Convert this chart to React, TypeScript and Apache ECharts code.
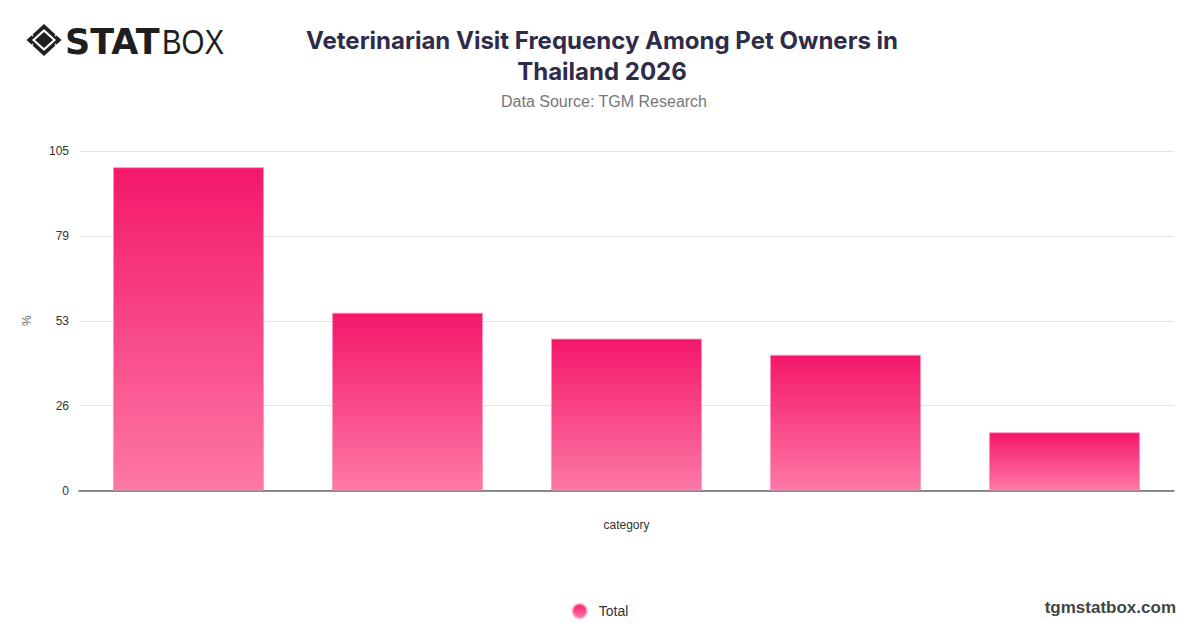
import React, { useEffect, useRef } from "react";
import * as echarts from "echarts";

const categories = [
  "At least once a year",
  "Only when sick",
  "Every six months",
  "For vaccinations only",
  "Never",
];
const totalValues = [100, 55, 47, 42, 18];
const yTicks = [0, 26, 53, 79, 105];
const seriesName = "Total";

export default function App() {
  const ref = useRef<HTMLDivElement>(null);

  useEffect(() => {
    document.body.style.margin = "0";
    if (!ref.current) return;
    const chart = echarts.init(ref.current, null, { renderer: "svg" });
    const font = "Helvetica Neue, Arial, Liberation Sans, sans-serif";
    const dark = "#1f1f1f";
    chart.setOption({
      animation: false,
      backgroundColor: "#ffffff",
      title: [
        {
          text: "Veterinarian Visit Frequency Among Pet Owners in\nThailand 2026",
          left: 597,
          top: 20,
          textAlign: "center",
          textStyle: {
            fontFamily: "Inter, Noto Sans, sans-serif",
            fontSize: 24,
            fontWeight: "bold",
            color: "#2e2c48",
            lineHeight: 31,
          },
        },
        {
          text: "Data Source: TGM Research",
          left: 599,
          top: 88,
          textAlign: "center",
          textStyle: {
            fontFamily: font,
            fontSize: 16,
            fontWeight: "normal",
            color: "#777777",
          },
        },
      ],
      legend: {
        bottom: 4,
        left: "center",
        itemWidth: 14,
        itemHeight: 14,
        icon: "circle",
        itemGap: 10,
        textStyle: { fontFamily: font, fontSize: 14, color: "#333", padding: [0, 0, 0, 7] },
        data: [seriesName],
      },
      grid: { left: 79, right: 26, top: 151, bottom: 137.5, containLabel: false },
      xAxis: {
        type: "category",
        data: categories,
        name: "category",
        nameLocation: "middle",
        nameGap: 28,
        nameTextStyle: { fontFamily: font, fontSize: 12, color: "#333" },
        axisLabel: { show: false },
        axisTick: { show: false },
        axisLine: { lineStyle: { color: "#666666", width: 1.5 } },
      },
      yAxis: {
        type: "value",
        min: 0,
        max: 105,
        interval: 26.25,
        name: "%",
        nameLocation: "middle",
        nameGap: 46,
        nameRotate: 90,
        nameTextStyle: { fontFamily: font, fontSize: 12, color: "#666" },
        axisLabel: {
          fontFamily: font,
          fontSize: 12,
          color: "#333",
          margin: 10,
          formatter: (v: number) => {
            const r = Math.round(v);
            return yTicks.includes(r) ? String(r) : "";
          },
        },
        axisLine: { show: false },
        axisTick: { show: false },
        splitLine: { lineStyle: { color: "#e3e3e3", width: 1 } },
      },
      series: [
        {
          name: seriesName,
          type: "bar",
          data: totalValues,
          barWidth: "69%",
          itemStyle: {
            color: new echarts.graphic.LinearGradient(0, 0, 0, 1, [
              { offset: 0, color: "#f4176a" },
              { offset: 1, color: "#fd78a6" },
            ]),
            borderColor: "rgba(255,150,190,0.8)",
            borderWidth: 1,
          },
        },
      ],
      graphic: [
        // logo icon
        {
          type: "polygon",
          shape: { points: [[44, 24], [61.5, 40], [44, 56], [26.5, 40]] },
          style: { fill: dark },
        },
        {
          type: "polygon",
          shape: { points: [[44, 29], [56, 40], [44, 51], [32, 40]] },
          style: { fill: "#ffffff" },
        },
        {
          type: "polygon",
          shape: { points: [[44, 32], [53, 40], [44, 48], [35, 40]] },
          style: { fill: dark },
        },
        { type: "line", shape: { x1: 33, y1: 36, x2: 29, y2: 32 }, style: { stroke: "#fff", lineWidth: 1.5 } },
        { type: "line", shape: { x1: 55, y1: 36, x2: 59, y2: 32 }, style: { stroke: "#fff", lineWidth: 1.5 } },
        { type: "line", shape: { x1: 33, y1: 44, x2: 29, y2: 48 }, style: { stroke: "#fff", lineWidth: 1.5 } },
        { type: "line", shape: { x1: 55, y1: 44, x2: 59, y2: 48 }, style: { stroke: "#fff", lineWidth: 1.5 } },
        {
          type: "text",
          x: 65,
          y: 42,
          style: {
            text: "STAT",
            fontFamily: "DejaVu Sans, sans-serif",
            fontSize: 35,
            fontWeight: 900,
            fill: dark,
            verticalAlign: "middle",
          },
        },
        {
          type: "text",
          x: 162,
          y: 42,
          scaleX: 0.84,
          style: {
            text: "BOX",
            fontFamily: "Liberation Sans, Arial, sans-serif",
            fontSize: 35,
            fontWeight: "normal",
            fill: dark,
            verticalAlign: "middle",
          },
        },
        {
          type: "text",
          right: 24,
          bottom: 12,
          style: {
            text: "tgmstatbox.com",
            fontFamily: font,
            fontSize: 17,
            fontWeight: "bold",
            fill: "#444444",
          },
        },
      ],
    });
    return () => chart.dispose();
  }, []);

  return <div ref={ref} style={{ width: 1200, height: 628 }} />;
}
